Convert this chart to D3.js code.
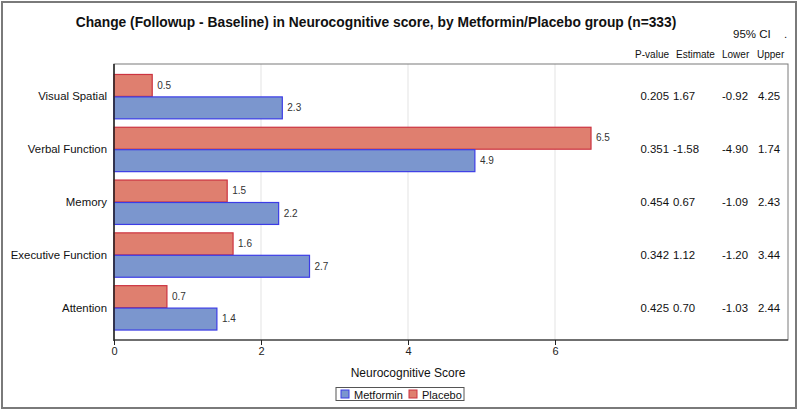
<!DOCTYPE html>
<html><head><meta charset="utf-8">
<script src="https://cdn.jsdelivr.net/npm/d3@7"></script>
<style>body{margin:0;background:#fff;}svg{display:block;font-family:Arial,"Liberation Sans",sans-serif;}</style>
</head><body>
<svg id="c" width="800" height="412"></svg>
<script>
const categories = ["Visual Spatial","Verbal Function","Memory","Executive Function","Attention"];
const metformin = [2.29, 4.91, 2.24, 2.66, 1.40];
const placebo   = [0.52, 6.49, 1.54, 1.62, 0.72];
const pValue   = ["0.205","0.351","0.454","0.342","0.425"];
const estimate = ["1.67","-1.58","0.67","1.12","0.70"];
const lower    = ["-0.92","-4.90","-1.09","-1.20","-1.03"];
const upper    = ["4.25","1.74","2.43","3.44","2.44"];
const xTicks = [0,2,4,6];
const series = ["Metformin","Placebo"];

const svg = d3.select("#c");
const colors = {Metformin:{fill:"#7b96ce",stroke:"#3c3ce6"}, Placebo:{fill:"#df7f6f",stroke:"#cc3340"}};

// outer border
svg.append("rect").attr("x",2).attr("y",2).attr("width",794).attr("height",406)
  .attr("fill","none").attr("stroke","#7a7a7a").attr("stroke-width",2);

const plot = {l:114, r:788, t:64, b:340};
const x = d3.scaleLinear().domain([0, 9.17]).range([plot.l, plot.r]);
const y = d3.scaleBand().domain(categories).range([70, 334]).paddingInner(0.15).paddingOuter(0.075);
const sub = d3.scaleBand().domain(["Placebo","Metformin"]).range([0, y.bandwidth()]);

// gridlines
svg.append("g").selectAll("line").data(xTicks.filter(d=>d>0)).join("line")
  .attr("x1",d=>x(d)).attr("x2",d=>x(d)).attr("y1",plot.t).attr("y2",plot.b)
  .attr("stroke","#e3e3e3").attr("stroke-width",1);

// frame
svg.append("rect").attr("x",plot.l).attr("y",plot.t).attr("width",plot.r-plot.l).attr("height",plot.b-plot.t)
  .attr("fill","none").attr("stroke","#7a7a7a").attr("stroke-width",1);

// bars
const rows = categories.map((c,i)=>({cat:c, Metformin:metformin[i], Placebo:placebo[i]}));
const g = svg.append("g");
rows.forEach(r=>{
  ["Placebo","Metformin"].forEach(s=>{
    const yy = y(r.cat)+sub(s);
    g.append("rect").attr("x",x(0)).attr("y",yy+0.5).attr("width",x(r[s])-x(0)).attr("height",sub.bandwidth()-0.5)
      .attr("fill",colors[s].fill).attr("stroke",colors[s].stroke).attr("stroke-width",1.2);
    g.append("text").attr("x",x(r[s])+5).attr("y",yy+sub.bandwidth()/2+3.5)
      .attr("font-size",10).attr("fill","#333").text(d3.format(".1f")(r[s]));
  });
});

// axes
const xAxis = d3.axisBottom(x).tickValues(xTicks).tickSize(5).tickFormat(d3.format("d"));
const ax = svg.append("g").attr("transform",`translate(0,${plot.b})`).call(xAxis);
ax.select(".domain").attr("stroke","#222").attr("d",`M${plot.l},0H${plot.r}`);
ax.selectAll(".tick line").attr("stroke","#222");
ax.selectAll(".tick text").attr("font-size",11).attr("fill","#222").attr("dy","0.9em").attr("y",5)
  .attr("font-family","Arial,'Liberation Sans',sans-serif");
svg.append("line").attr("x1",plot.l).attr("x2",plot.l).attr("y1",plot.t).attr("y2",plot.b+1)
  .attr("stroke","#222").attr("stroke-width",1.5);

// y labels
svg.append("g").selectAll("text").data(categories).join("text")
  .attr("x",107).attr("y",d=>y(d)+y.bandwidth()/2+4).attr("text-anchor","end")
  .attr("font-size",11.4).attr("fill","#111").text(d=>d);

// axis title
svg.append("text").attr("x",408).attr("y",377).attr("text-anchor","middle")
  .attr("font-size",12).attr("fill","#111").text("Neurocognitive Score");

// title
svg.append("text").attr("x",376).attr("y",27).attr("text-anchor","middle")
  .attr("font-size",13.8).attr("font-weight","bold").attr("fill","#111")
  .text("Change (Followup - Baseline) in Neurocognitive score, by Metformin/Placebo group (n=333)");

// table header
svg.append("text").attr("x",733).attr("y",38).attr("font-size",11.5).attr("fill","#111").text("95% CI");
svg.append("text").attr("x",784).attr("y",38).attr("font-size",11.5).attr("fill","#111").text(".");
const hdr = [{t:"P-value",x:669,a:"end"},{t:"Estimate",x:676,a:"start"},{t:"Lower",x:722,a:"start"},{t:"Upper",x:757,a:"start"}];
svg.append("g").selectAll("text").data(hdr).join("text")
  .attr("x",d=>d.x).attr("y",58).attr("text-anchor",d=>d.a).attr("font-size",10).attr("fill","#111").text(d=>d.t);

// table rows
const cols = [{v:pValue,x:669,a:"end"},{v:estimate,x:673,a:"start"},{v:lower,x:722,a:"start"},{v:upper,x:758,a:"start"}];
cols.forEach(col=>{
  svg.append("g").selectAll("text").data(categories).join("text")
    .attr("x",col.x).attr("y",(d)=>y(d)+y.bandwidth()/2+4).attr("text-anchor",col.a)
    .attr("font-size",11.4).attr("fill","#111").text((d,i)=>col.v[i]);
});

// legend
const lg = svg.append("g");
lg.append("rect").attr("x",336).attr("y",387.5).attr("width",128).attr("height",13)
  .attr("fill","#fff").attr("stroke","#555").attr("stroke-width",1);
const legItems = [{s:"Metformin",x:341},{s:"Placebo",x:409}];
legItems.forEach(it=>{
  lg.append("rect").attr("x",it.x).attr("y",390).attr("width",8).attr("height",8)
    .attr("fill",colors[it.s].fill).attr("stroke",colors[it.s].stroke);
  lg.append("text").attr("x",it.x+13).attr("y",398.5).attr("font-size",11).attr("fill","#111").text(it.s);
});
</script>
</body></html>
